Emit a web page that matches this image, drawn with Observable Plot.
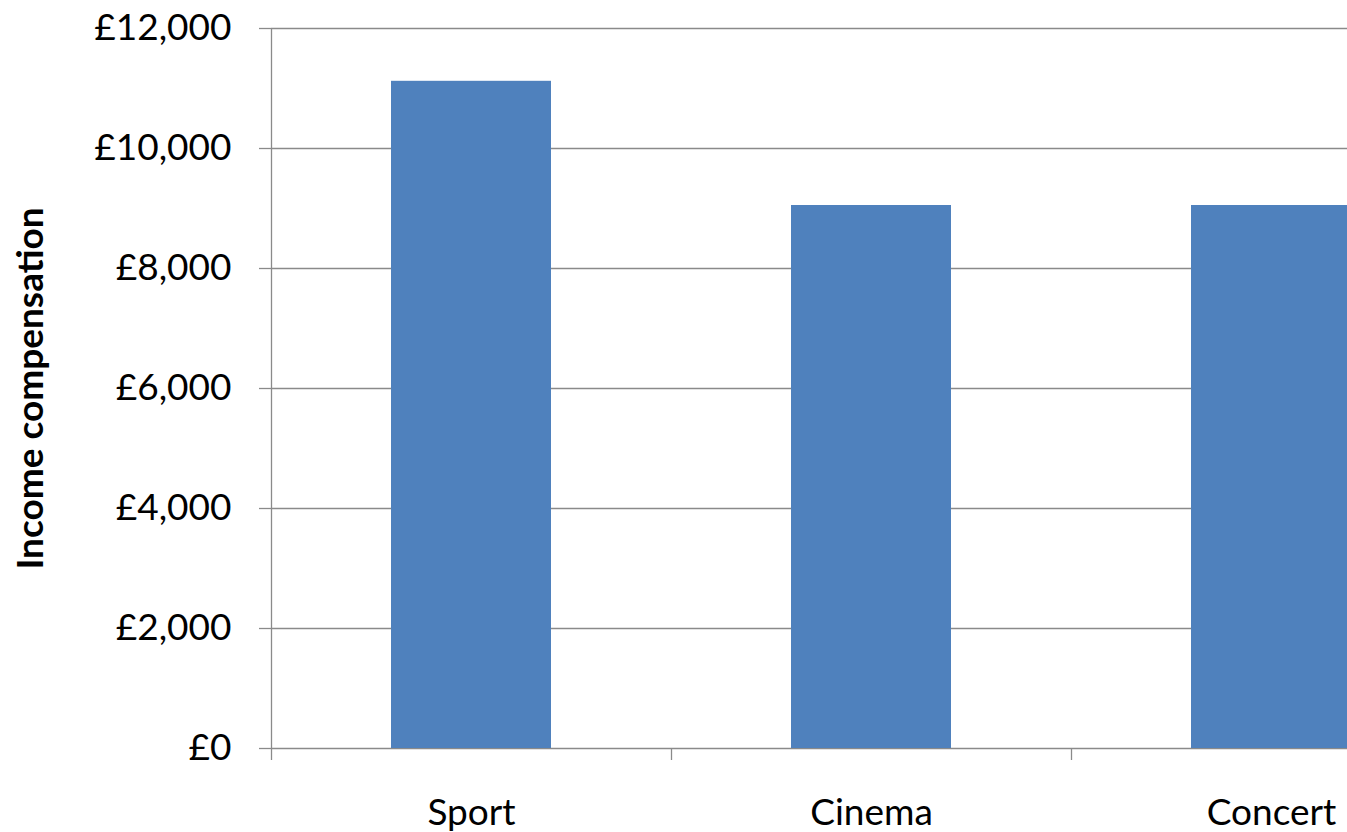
<!DOCTYPE html>
<html>
<head>
<meta charset="utf-8">
<script src="https://cdn.jsdelivr.net/npm/d3@7"></script>
<script src="https://cdn.jsdelivr.net/npm/@observablehq/plot@0.6"></script>
<style>
  html, body { margin: 0; padding: 0; background: #fff; }
  #chart svg { display: block; overflow: hidden; }
</style>
</head>
<body>
<div id="chart"></div>
<script>
const categories = ["Sport", "Cinema", "Concert"];
const values = [11120, 9050, 9050];
const yTicks = [0, 2000, 4000, 6000, 8000, 10000, 12000];
const yLabel = "Income compensation";

const data = categories.map((c, i) => ({category: c, value: values[i]}));
const fmt = d => "£" + d3.format(",")(d);

const W = 1347, H = 832;
const mL = 271, mT = 28, mB = 84;
const step = 400;

const chart = Plot.plot({
  width: W,
  height: H,
  marginLeft: mL,
  marginTop: mT,
  marginBottom: mB,
  marginRight: 0,
  style: {fontFamily: "Lato, sans-serif", background: "#fff", color: "#000"},
  x: {domain: categories, range: [mL, mL + step * categories.length], paddingInner: 0.6, paddingOuter: 0.3},
  y: {domain: [0, 12000]},
  marks: [
    Plot.ruleY(yTicks, {stroke: "#8a8a8a", strokeWidth: 1.3}),
    Plot.barY(data, {x: "category", y: "value", fill: "#4F81BD"}),
    Plot.ruleX([0], {x: () => categories[0], dx: -step / 2, y1: 0, y2: 12000, stroke: "#8a8a8a", strokeWidth: 1.3}),
    Plot.axisY({ticks: yTicks, tickFormat: fmt, tickSize: 12, tickPadding: 28, stroke: "#8a8a8a", strokeWidth: 1.3, fontSize: 37, label: null, strokeOpacity: 1}),
    Plot.axisX({tickSize: 12, tickFormat: () => "", dx: -step / 2, stroke: "#8a8a8a", strokeWidth: 1.3, strokeOpacity: 1, label: null}),
    Plot.axisX({tickSize: 0, tickPadding: 50, fontSize: 37, label: null}),
    Plot.text([yLabel], {frameAnchor: "left", textAnchor: "middle", dx: -240, rotate: -90, fontWeight: "bold", fontSize: 37, fill: "#000"})
  ]
});
document.getElementById("chart").appendChild(chart);
</script>
</body>
</html>
